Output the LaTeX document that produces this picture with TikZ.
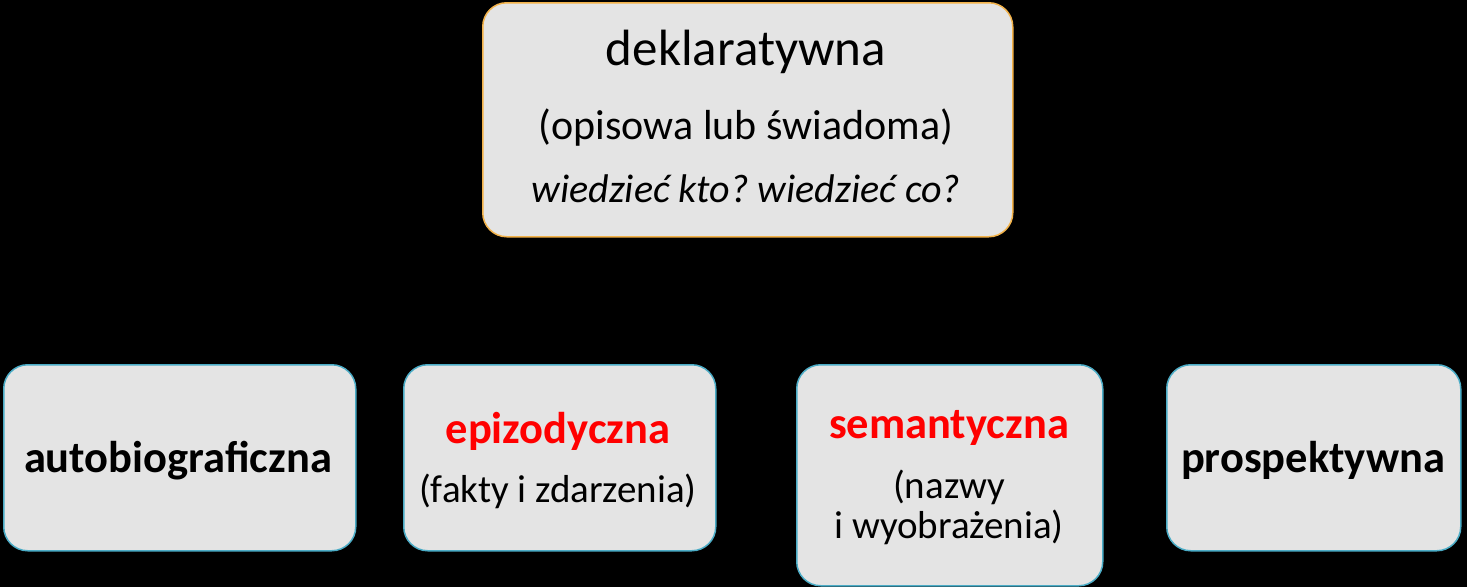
\documentclass[tikz,border=0pt]{standalone}
\usepackage{fontspec}
\setmainfont{Carlito}
\frenchspacing
\definecolor{boxfill}{HTML}{E4E4E4}
\definecolor{topline}{HTML}{F2B24A}
\definecolor{botline}{HTML}{4BACC6}
\definecolor{hot}{HTML}{FF0000}
\begin{document}
\begin{tikzpicture}[x=1pt,y=-1pt,
  boxbase/.style={draw, fill=boxfill, rounded corners=24pt, line width=1.5pt, inner sep=0pt, anchor=north west},
  topbox/.style={boxbase, draw=topline},
  botbox/.style={boxbase, draw=botline},
  txt/.style={inner sep=0pt, anchor=base, text=black},
  big/.style={txt, font=\fontsize{51}{56}\selectfont},
  mid/.style={txt, font=\fontsize{42}{48}\selectfont},
  ita/.style={txt, font=\itshape\fontsize{40}{46}\selectfont},
  bl/.style={txt, font=\bfseries\fontsize{44.5}{50}\selectfont},
  rg/.style={txt, font=\fontsize{39}{44}\selectfont}]
\fill[black] (0,0) rectangle (1467,587);
\useasboundingbox (0,0) rectangle (1467,587);
% boxes
\node[topbox, minimum width=530pt, minimum height=234pt] (top) at (482,2) {};
\node[botbox, minimum width=352pt, minimum height=186pt] (b1) at (3,364) {};
\node[botbox, minimum width=312pt, minimum height=186pt] (b2) at (403,364) {};
\node[botbox, minimum width=306pt, minimum height=221pt] (b3) at (796,364) {};
\node[botbox, minimum width=294pt, minimum height=186pt] (b4) at (1166,364) {};
% texts top
\node[big] (t1) at (746,65) {deklaratywna};
\node[mid] (t2) at (746,139) {(opisowa lub świadoma)};
\node[ita] (t3) at (746,202) {wiedzieć kto? wiedzieć co?};
% bottom texts
\node[bl] (a1) at (178,472) {autobiograficzna};
\node[bl, text=hot] (e1) at (558,443) {epizodyczna};
\node[rg] (e2) at (558,502) {(fakty i zdarzenia)};
\node[bl, text=hot] (s1) at (949,438) {semantyczna};
\node[rg] (s2) at (949,498) {(nazwy};
\node[rg] (s3) at (949,538) {i wyobrażenia)};
\node[bl] (p1) at (1313,472) {prospektywna};
\end{tikzpicture}
\end{document}
